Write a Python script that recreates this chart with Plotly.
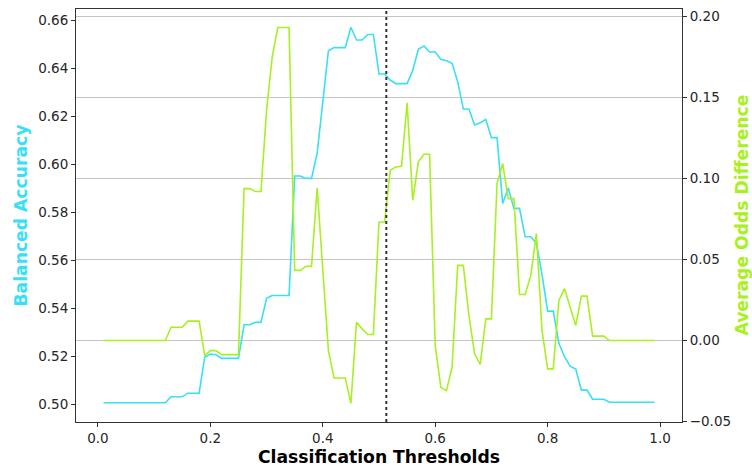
import plotly.graph_objects as go

# Classification thresholds 0.01 .. 0.99
thresholds = [round(0.01 * i, 2) for i in range(1, 100)]

balanced_accuracy = [
    0.5005, 0.5005, 0.5005, 0.5005, 0.5005, 0.5005, 0.5005, 0.5005, 0.5005, 0.5005,  # 0.01-0.10
    0.5005, 0.5005, 0.5030, 0.5030, 0.5030, 0.5045, 0.5045, 0.5045, 0.5195, 0.5208,  # 0.11-0.20
    0.5205, 0.5190, 0.5190, 0.5190, 0.5190, 0.5330, 0.5330, 0.5340, 0.5340, 0.5440,  # 0.21-0.30
    0.5452, 0.5452, 0.5452, 0.5452, 0.5950, 0.5950, 0.5940, 0.5940, 0.6045, 0.6260,  # 0.31-0.40
    0.6472, 0.6485, 0.6485, 0.6485, 0.6570, 0.6517, 0.6517, 0.6540, 0.6540, 0.6375,  # 0.41-0.50
    0.6375, 0.6350, 0.6335, 0.6335, 0.6335, 0.6390, 0.6478, 0.6492, 0.6467, 0.6467,  # 0.51-0.60
    0.6436, 0.6430, 0.6420, 0.6343, 0.6229, 0.6229, 0.6163, 0.6172, 0.6186, 0.6110,  # 0.61-0.70
    0.6110, 0.5836, 0.5900, 0.5815, 0.5815, 0.5697, 0.5697, 0.5670, 0.5540, 0.5387,  # 0.71-0.80
    0.5387, 0.5253, 0.5197, 0.5158, 0.5146, 0.5058, 0.5058, 0.5020, 0.5020, 0.5020,  # 0.81-0.90
    0.5007, 0.5007, 0.5007, 0.5007, 0.5007, 0.5007, 0.5007, 0.5007, 0.5007,          # 0.91-0.99
]

avg_odds_difference = [
    0.0000, 0.0000, 0.0000, 0.0000, 0.0000, 0.0000, 0.0000, 0.0000, 0.0000, 0.0000,  # 0.01-0.10
    0.0000, 0.0000, 0.0082, 0.0082, 0.0082, 0.0120, 0.0120, 0.0120, -0.0093, -0.0062,  # 0.11-0.20
    -0.0062, -0.0087, -0.0087, -0.0087, -0.0087, 0.0938, 0.0938, 0.0920, 0.0920, 0.1422,  # 0.21-0.30
    0.1750, 0.1933, 0.1933, 0.1933, 0.0433, 0.0433, 0.0458, 0.0458, 0.0942, 0.0440,  # 0.31-0.40
    -0.0062, -0.0231, -0.0231, -0.0231, -0.0388, 0.0113, 0.0072, 0.0037, 0.0037, 0.0732,  # 0.41-0.50
    0.0732, 0.1051, 0.1072, 0.1076, 0.1468, 0.0866, 0.1103, 0.1150, 0.1150, -0.0031,  # 0.51-0.60
    -0.0289, -0.0309, -0.0165, 0.0464, 0.0464, 0.0155, -0.0082, -0.0148, 0.0134, 0.0134,  # 0.61-0.70
    0.0969, 0.1093, 0.0876, 0.0876, 0.0284, 0.0284, 0.0402, 0.0660, 0.0062, -0.0175,  # 0.71-0.80
    -0.0175, 0.0247, 0.0320, 0.0206, 0.0093, 0.0274, 0.0274, 0.0027, 0.0027, 0.0027,  # 0.81-0.90
    0.0000, 0.0000, 0.0000, 0.0000, 0.0000, 0.0000, 0.0000, 0.0000, 0.0000,          # 0.91-0.99
]

selected_threshold = 0.513

x_ticks = [0.0, 0.2, 0.4, 0.6, 0.8, 1.0]
ba_ticks = [0.50, 0.52, 0.54, 0.56, 0.58, 0.60, 0.62, 0.64, 0.66]
aod_ticks = [-0.05, 0.00, 0.05, 0.10, 0.15, 0.20]

BA_COLOR = "#38DFF7"
AOD_COLOR = "#A8F020"
FONT = "DejaVu Sans"
TICK_COLOR = "#262626"
TITLE_SIZE = 17.2

fig = go.Figure()
fig.add_trace(go.Scatter(
    x=thresholds, y=balanced_accuracy, mode="lines",
    line=dict(color=BA_COLOR, width=1.6), yaxis="y", showlegend=False,
))
fig.add_trace(go.Scatter(
    x=thresholds, y=avg_odds_difference, mode="lines",
    line=dict(color=AOD_COLOR, width=1.6), yaxis="y2", showlegend=False,
))

fig.add_shape(
    type="line", xref="x", yref="paper",
    x0=selected_threshold, x1=selected_threshold, y0=0, y1=1,
    line=dict(color="#333333", width=2, dash="dot"),
)

axis_common = dict(
    showline=True, linecolor="#333333", linewidth=1,
    ticks="outside", ticklen=4, tickcolor="#333333",
    tickfont=dict(family=FONT, size=13.5, color=TICK_COLOR),
    zeroline=False, automargin=False,
)

# Axis titles placed as annotations so the plot area stays fixed
titles = [
    dict(text="<b>Classification Thresholds</b>", x=0.5, y=-0.0847,
         textangle=0, color="black"),
    dict(text="<b>Balanced Accuracy</b>", x=-0.0924, y=0.5,
         textangle=-90, color=BA_COLOR),
    dict(text="<b>Average Odds Difference</b>", x=1.0974, y=0.5,
         textangle=-90, color=AOD_COLOR),
]
for t in titles:
    fig.add_annotation(
        text=t["text"], xref="paper", yref="paper", x=t["x"], y=t["y"],
        xanchor="center", yanchor="middle", textangle=t["textangle"],
        showarrow=False, font=dict(family=FONT, size=TITLE_SIZE, color=t["color"]),
    )

fig.update_layout(
    width=752, height=468,
    margin=dict(l=76, r=70, t=9, b=46),
    paper_bgcolor="white", plot_bgcolor="white",
    font=dict(family=FONT),
    xaxis=dict(
        **axis_common, mirror=True, showgrid=False,
        range=[-0.039, 1.039], tickvals=x_ticks, tickformat=".1f",
    ),
    yaxis=dict(
        **axis_common, showgrid=False,
        range=[0.4925, 0.6646], tickvals=ba_ticks, tickformat=".2f",
    ),
    yaxis2=dict(
        **axis_common, overlaying="y", side="right",
        showgrid=True, gridcolor="#c4c4c4", gridwidth=1,
        range=[-0.0503, 0.2047], tickvals=aod_ticks, tickformat=".2f",
    ),
)

fig.write_html("out.html")
